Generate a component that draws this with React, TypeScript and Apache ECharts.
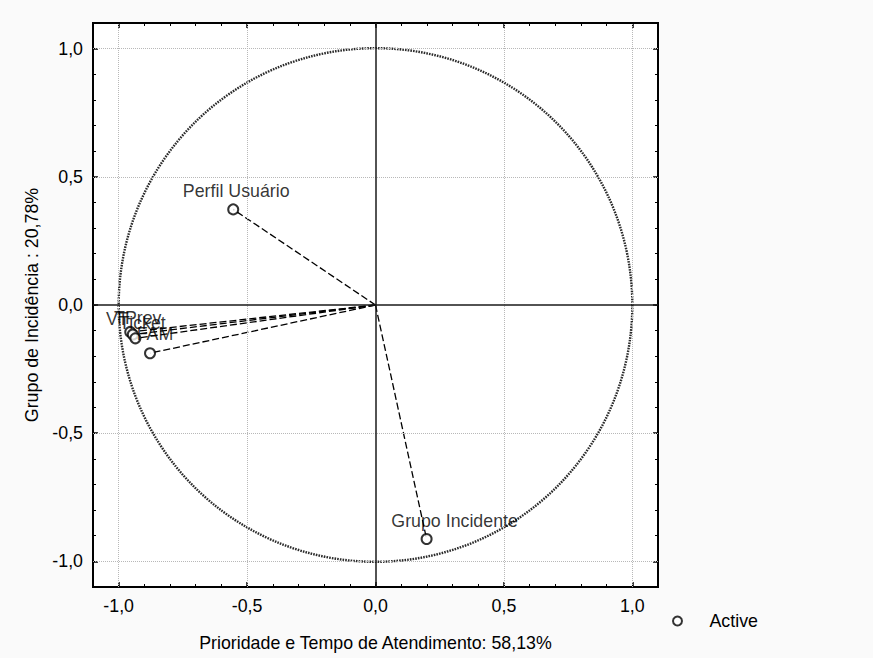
import React, { useEffect, useRef } from "react";
import * as echarts from "echarts";

// ---- data ----
const variableNames = ["Perfil Usuário", "VT", "TPrev", "Ticket", "FAM", "Grupo Incidente"];
const factor1 = [-0.554, -0.955, -0.945, -0.935, -0.878, 0.199];
const factor2 = [0.373, -0.105, -0.115, -0.13, -0.188, -0.913];
const majorTicks = [-1, -0.5, 0, 0.5, 1];
const gridLineValues = [-1, -0.5, 0.5, 1];
const zeroLines = [0];
const unitCircle = [[0, 0, 1]];
const xTitle = "Prioridade e Tempo de Atendimento: 58,13%";
const yTitle = "Grupo de Incidência : 20,78%";
const seriesName = "Active";

// ---- layout (label nudges, px) ----
const labelOffsets = [
  [3, 0],
  [-13, 5],
  [5, 1.5],
  [7, 3],
  [5, -1],
  [28, 0],
];

const FONT = "'Liberation Sans', Arial, Helvetica, sans-serif";
const FS = 17.8;
const fmt = (v: number) => (Math.abs(v) < 1e-9 ? 0 : v).toFixed(1).replace(".", ",");

const GRID = { left: 93, top: 23, width: 565, height: 564 };

function majorAxis(pos: string, gridIndex: number, withLabels: boolean, name?: string, nameGap?: number) {
  return {
    type: "value",
    gridIndex,
    position: pos,
    min: -1.1,
    max: 1.1,
    axisLine: { show: false, onZero: false },
    axisTick: {
      show: true,
      inside: true,
      length: 5,
      customValues: majorTicks,
      lineStyle: { color: "#000", width: 1.5 },
    },
    axisLabel: withLabels
      ? {
          show: true,
          customValues: majorTicks,
          formatter: fmt,
          margin: 10,
          fontSize: FS,
          color: "#000",
          fontFamily: FONT,
        }
      : { show: false },
    splitLine: { show: false },
    name: name,
    nameLocation: "middle",
    nameGap: nameGap,
    nameTextStyle: { fontSize: FS, color: "#000", fontFamily: FONT },
  };
}

function minorAxis(pos: string, gridIndex: number) {
  return {
    type: "value",
    gridIndex,
    position: pos,
    min: -1.1,
    max: 1.1,
    interval: 0.1,
    axisLine: { show: false, onZero: false },
    axisTick: { show: true, inside: true, length: 3, lineStyle: { color: "#000", width: 1 } },
    axisLabel: { show: false },
    splitLine: { show: false },
  };
}

export default function App() {
  const ref = useRef<HTMLDivElement>(null);
  useEffect(() => {
    if (!ref.current) return;
    const chart = echarts.init(ref.current, null, { renderer: "svg" });
    const points = variableNames.map((n, i) => ({
      name: n,
      value: [factor1[i], factor2[i]],
      label: { offset: labelOffsets[i] },
    }));
    const option: any = {
      animation: false,
      backgroundColor: "#fafafa",
      textStyle: { fontFamily: FONT },
      grid: [
        {
          ...GRID,
          show: true,
          backgroundColor: "#ffffff",
          borderColor: "#000",
          borderWidth: 2,
          outerBoundsMode: "none",
        },
        { ...GRID, show: false, outerBoundsMode: "none" },
      ],
      xAxis: [
        majorAxis("bottom", 0, true, xTitle, 47),
        majorAxis("top", 0, false),
        minorAxis("bottom", 1),
        minorAxis("top", 1),
      ],
      yAxis: [
        majorAxis("left", 0, true, yTitle, 51),
        majorAxis("right", 0, false),
        minorAxis("left", 1),
        minorAxis("right", 1),
      ],
      legend: {
        data: [{ name: seriesName, icon: "emptyCircle" }],
        left: 667,
        top: 607,
        itemWidth: 30,
        itemHeight: 9,
        textStyle: { fontSize: FS, color: "#000", fontFamily: FONT, padding: [0, 0, 0, 12] },
      },
      series: [
        {
          name: "grid",
          type: "scatter",
          xAxisIndex: 0,
          yAxisIndex: 0,
          data: [],
          silent: true,
          z: 1,
          markLine: {
            silent: true,
            symbol: ["none", "none"],
            label: { show: false },
            lineStyle: { color: "#b8b8b8", type: [1, 1], width: 1 },
            data: [
              ...gridLineValues.map((v) => ({ xAxis: v })),
              ...gridLineValues.map((v) => ({ yAxis: v })),
            ],
          },
        },
        {
          name: "zero",
          type: "scatter",
          xAxisIndex: 0,
          yAxisIndex: 0,
          data: [],
          silent: true,
          z: 2,
          markLine: {
            silent: true,
            symbol: ["none", "none"],
            label: { show: false },
            lineStyle: { color: "#1a1a1a", type: "solid", width: 1.5 },
            data: [...zeroLines.map((v) => ({ xAxis: v })), ...zeroLines.map((v) => ({ yAxis: v }))],
          },
        },
        {
          name: "circle",
          type: "custom",
          xAxisIndex: 0,
          yAxisIndex: 0,
          silent: true,
          z: 3,
          data: unitCircle,
          renderItem: (params: any, api: any) => {
            const c = api.coord([api.value(0), api.value(1)]);
            const e = api.coord([api.value(0) + api.value(2), api.value(1)]);
            const r = e[0] - c[0];
            return {
              type: "circle",
              shape: { cx: c[0], cy: c[1], r },
              style: { fill: "none", stroke: "#2a2a2a", lineWidth: 2.4, lineDash: [1.6, 1.1] },
            };
          },
        },
        {
          name: "vectors",
          type: "custom",
          xAxisIndex: 0,
          yAxisIndex: 0,
          silent: true,
          z: 4,
          data: variableNames.map((_, i) => [factor1[i], factor2[i]]),
          renderItem: (params: any, api: any) => {
            const o = api.coord([0, 0]);
            const p = api.coord([api.value(0), api.value(1)]);
            return {
              type: "line",
              shape: { x1: o[0], y1: o[1], x2: p[0], y2: p[1] },
              style: { stroke: "#000", lineWidth: 1.3, lineDash: [7, 3], fill: "none" },
            };
          },
        },
        {
          name: seriesName,
          type: "scatter",
          xAxisIndex: 0,
          yAxisIndex: 0,
          z: 5,
          symbol: "emptyCircle",
          symbolSize: 10,
          itemStyle: { color: "#000", borderWidth: 1.2 },
          label: {
            show: true,
            position: "top",
            distance: 3,
            formatter: "{b}",
            fontSize: FS,
            color: "#000",
            fontFamily: FONT,
          },
          data: points,
        },
      ],
    };
    chart.setOption(option);
    return () => chart.dispose();
  }, []);
  return (
    <div
      ref={ref}
      style={{ position: "fixed", left: 0, top: 0, width: 873, height: 658, background: "#fafafa" }}
    />
  );
}
